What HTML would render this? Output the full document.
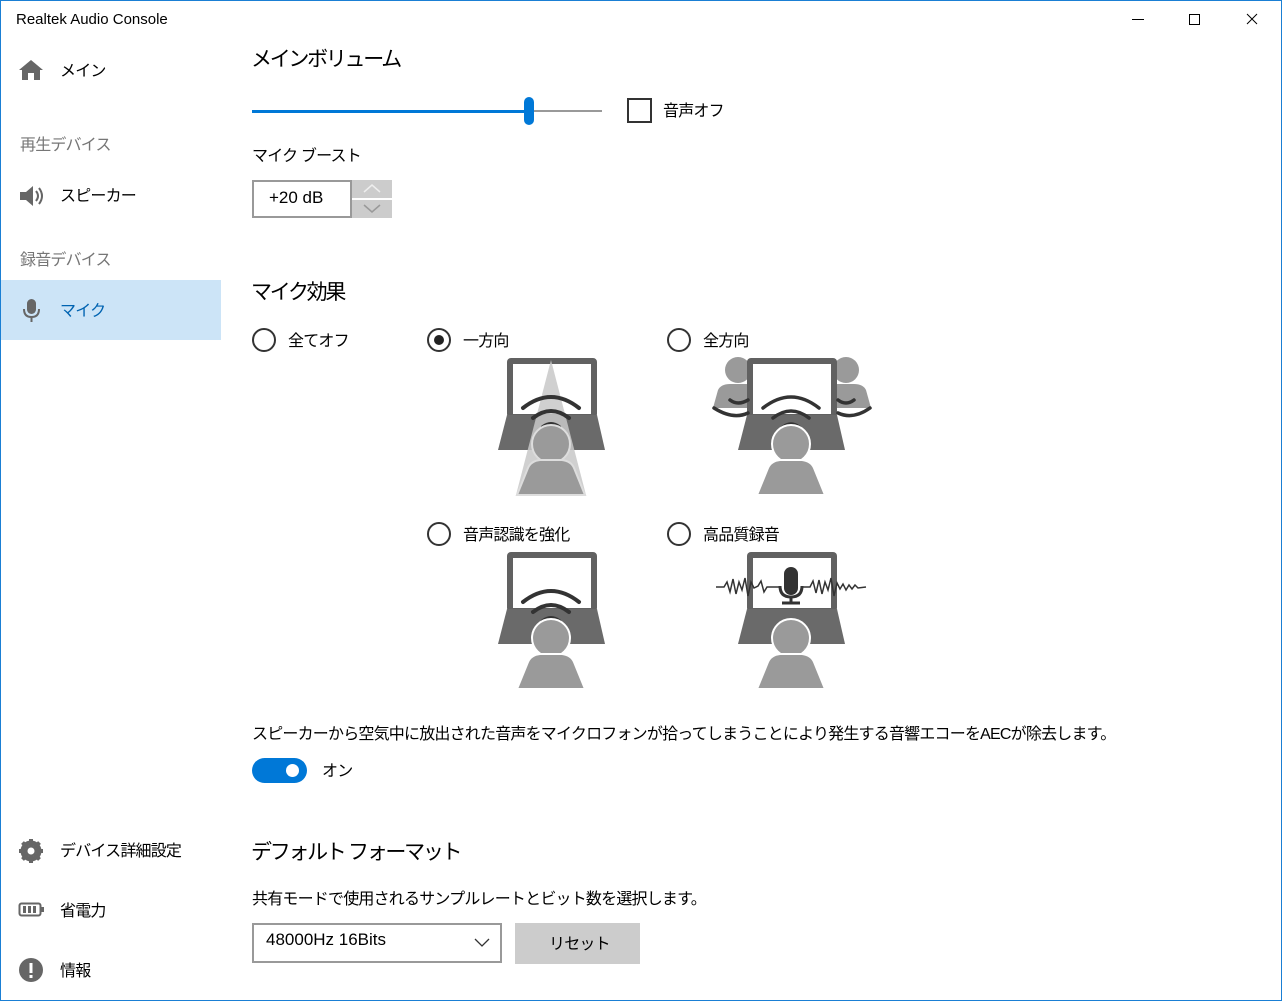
<!DOCTYPE html>
<html><head><meta charset="utf-8"><style>
*{margin:0;padding:0;box-sizing:border-box}
body{width:1282px;height:1001px;overflow:hidden;background:#fff;font-family:"Liberation Sans","Noto Sans CJK JP",sans-serif;color:#000;position:relative}
.frame{position:absolute;left:0;top:0;width:1282px;height:1001px;border:1px solid #1a7fd4;pointer-events:none}
.t{position:absolute;white-space:nowrap;margin-top:-2px}
.s18{font-size:16px;letter-spacing:-0.8px}
.h{font-size:21px;letter-spacing:-2.3px}
.g{color:#767676}
.radio{position:absolute;width:24px;height:24px;border:2px solid #333;border-radius:50%}
.radio.on::after{content:"";position:absolute;left:5px;top:5px;width:10px;height:10px;border-radius:50%;background:#222}
</style></head><body>
<div class="t" style="left:16px;top:11px;font-size:15px;margin-top:0">Realtek Audio Console</div>
<svg style="position:absolute;left:1100px;top:0" width="182" height="40">
<line x1="32" y1="19.5" x2="44" y2="19.5" stroke="#000"/>
<rect x="89.5" y="14.5" width="10" height="10" fill="none" stroke="#000"/>
<path d="M147,14 L157,24 M157,14 L147,24" stroke="#000"/>
</svg>

<div style="position:absolute;left:1px;top:280px;width:220px;height:60px;background:#cce4f7"></div>
<svg style="position:absolute;left:18px;top:58px" width="28" height="24"><path d="M1,12 L13,2 L25,12 L22,12 L22,22 L16,22 L16,15 L10,15 L10,22 L4,22 L4,12Z" fill="#666"/></svg>
<div class="t s18" style="left:60px;top:59px">メイン</div>
<div class="t s18 g" style="left:20px;top:133px">再生デバイス</div>
<svg style="position:absolute;left:18px;top:184px" width="28" height="24"><path d="M2,8 L8,8 L15,2 L15,22 L8,16 L2,16Z" fill="#666"/><path d="M18,7 Q22,12 18,17 M21,4 Q27,12 21,20" stroke="#666" stroke-width="2" fill="none"/></svg>
<div class="t s18" style="left:60px;top:184px">スピーカー</div>
<div class="t s18 g" style="left:20px;top:248px">録音デバイス</div>
<svg style="position:absolute;left:20px;top:297px" width="24" height="28"><rect x="7" y="2" width="9" height="15" rx="4.5" fill="#666"/><path d="M4,12 Q4,20 11.5,20 Q19,20 19,12" stroke="#666" stroke-width="2" fill="none"/><line x1="11.5" y1="20" x2="11.5" y2="25" stroke="#666" stroke-width="2"/></svg>
<div class="t s18" style="left:60px;top:299px;color:#0063b1">マイク</div>
<svg style="position:absolute;left:18px;top:838px" width="28" height="26"><circle cx="13" cy="13" r="8" fill="none" stroke="#666" stroke-width="5"/><g stroke="#666" stroke-width="4"><line x1="13" y1="1" x2="13" y2="25"/><line x1="1" y1="13" x2="25" y2="13"/><line x1="4.5" y1="4.5" x2="21.5" y2="21.5"/><line x1="21.5" y1="4.5" x2="4.5" y2="21.5"/></g><circle cx="13" cy="13" r="3.5" fill="#fff"/></svg>
<div class="t s18" style="left:60px;top:839px">デバイス詳細設定</div>
<svg style="position:absolute;left:18px;top:900px" width="28" height="20"><rect x="1.5" y="3.5" width="21" height="12" rx="2" fill="none" stroke="#666" stroke-width="2"/><rect x="23" y="7" width="3" height="5" fill="#666"/><rect x="5" y="6" width="3" height="7" fill="#666"/><rect x="10" y="6" width="3" height="7" fill="#666"/><rect x="15" y="6" width="3" height="7" fill="#666"/></svg>
<div class="t s18" style="left:60px;top:899px">省電力</div>
<svg style="position:absolute;left:18px;top:957px" width="28" height="28"><circle cx="13" cy="13" r="12" fill="#666"/><rect x="11.5" y="6" width="3" height="10" fill="#fff"/><rect x="11.5" y="18" width="3" height="3" fill="#fff"/></svg>
<div class="t s18" style="left:60px;top:959px">情報</div>

<div class="t h" style="left:251px;top:45px">メインボリューム</div>
<div style="position:absolute;left:252px;top:110px;width:276px;height:3px;background:#0078d7"></div>
<div style="position:absolute;left:528px;top:110px;width:74px;height:2px;background:#999"></div>
<div style="position:absolute;left:524px;top:97px;width:10px;height:28px;border-radius:5px;background:#0078d7"></div>
<div style="position:absolute;left:627px;top:98px;width:25px;height:25px;border:2px solid #333"></div>
<div class="t s18" style="left:663px;top:99px">音声オフ</div>

<div class="t s18" style="left:252px;top:144px">マイク ブースト</div>
<div style="position:absolute;left:252px;top:180px;width:100px;height:38px;border:2px solid #999;background:#fff"></div>
<div class="t" style="left:269px;top:190px;font-size:17px">+20 dB</div>
<div style="position:absolute;left:352px;top:180px;width:40px;height:18px;background:#ccc"></div>
<div style="position:absolute;left:352px;top:200px;width:40px;height:18px;background:#ccc"></div>
<svg style="position:absolute;left:352px;top:180px" width="40" height="38"><path d="M12,12 L20,5 L28,12" stroke="#eee" stroke-width="1.5" fill="none"/><path d="M12,25 L20,32 L28,25" stroke="#999" stroke-width="1.5" fill="none"/></svg>

<div class="t h" style="left:251px;top:278px">マイク効果</div>
<div class="radio" style="left:252px;top:328px"></div>
<div class="t s18" style="left:288px;top:329px">全てオフ</div>
<div class="radio on" style="left:427px;top:328px"></div>
<div class="t s18" style="left:463px;top:329px">一方向</div>
<div class="radio" style="left:667px;top:328px"></div>
<div class="t s18" style="left:703px;top:329px">全方向</div>
<div class="radio" style="left:427px;top:522px"></div>
<div class="t s18" style="left:463px;top:523px">音声認識を強化</div>
<div class="radio" style="left:667px;top:522px"></div>
<div class="t s18" style="left:703px;top:523px">高品質録音</div>

<svg style="position:absolute;left:0;top:0" width="1282" height="1001">
<g transform="translate(498,358)">
<rect x="9" y="0" width="90" height="60" rx="4" fill="#616161"/><rect x="15" y="6" width="78" height="50" fill="#fff"/>
<polygon points="9,57 99,57 107,92 0,92" fill="#6a6a6a"/>
<polygon points="53,2 18,137 88,137" fill="#c8c8c8" opacity="0.85"/>
<g stroke="#333" stroke-width="4" fill="none" stroke-linecap="round"><path d="M25,50 Q53,28 81,50"/><path d="M35,60 Q53,46 71,60"/><path d="M45,69 Q53,63 61,69"/></g>
<circle cx="53" cy="86" r="19" fill="#9a9a9a" stroke="#ddd" stroke-width="2"/>
<path d="M19,137 L30,110 Q33,103 42,102 L64,102 Q73,103 76,110 L87,137Z" fill="#9a9a9a" stroke="#ddd" stroke-width="2"/>
</g>
<g transform="translate(738,358)">
<circle cx="0" cy="12" r="13" fill="#9a9a9a"/><path d="M-25,50 L-20,32 Q-17,26 -8,26 L8,26 Q17,26 20,32 L25,50Z" fill="#9a9a9a"/>
<circle cx="108" cy="12" r="13" fill="#9a9a9a"/><path d="M83,50 L88,32 Q91,26 100,26 L116,26 Q125,26 128,32 L133,50Z" fill="#9a9a9a"/>
<rect x="9" y="0" width="90" height="60" rx="4" fill="#616161"/><rect x="15" y="6" width="78" height="50" fill="#fff"/>
<polygon points="9,57 99,57 107,92 0,92" fill="#6a6a6a"/>
<g stroke="#333" stroke-width="3.5" fill="none" stroke-linecap="round">
<path d="M25,50 Q53,28 81,50"/><path d="M35,60 Q53,46 71,60"/><path d="M45,69 Q53,63 61,69"/>
<path d="M-8,42 Q0,48 10,42"/><path d="M-24,50 Q-5,62 10,55"/>
<path d="M100,42 Q108,48 116,42"/><path d="M100,55 Q115,62 132,50"/></g>
<circle cx="53" cy="86" r="19" fill="#9a9a9a" stroke="#fff" stroke-width="2"/>
<path d="M19,137 L30,110 Q33,103 42,102 L64,102 Q73,103 76,110 L87,137Z" fill="#9a9a9a" stroke="#fff" stroke-width="2"/>
</g>
<g transform="translate(498,552)">
<rect x="9" y="0" width="90" height="60" rx="4" fill="#616161"/><rect x="15" y="6" width="78" height="50" fill="#fff"/>
<polygon points="9,57 99,57 107,92 0,92" fill="#6a6a6a"/>
<g stroke="#333" stroke-width="4" fill="none" stroke-linecap="round"><path d="M25,50 Q53,28 81,50"/><path d="M35,60 Q53,46 71,60"/><path d="M45,69 Q53,63 61,69"/></g>
<circle cx="53" cy="86" r="19" fill="#9a9a9a" stroke="#fff" stroke-width="2"/>
<path d="M19,137 L30,110 Q33,103 42,102 L64,102 Q73,103 76,110 L87,137Z" fill="#9a9a9a" stroke="#fff" stroke-width="2"/>
</g>
<g transform="translate(738,552)">
<rect x="9" y="0" width="90" height="60" rx="4" fill="#616161"/><rect x="15" y="6" width="78" height="50" fill="#fff"/>
<polygon points="9,57 99,57 107,92 0,92" fill="#6a6a6a"/>
<path d="M-22,35 L-14,35 L-11,30 L-8,40 L-5,27 L-2,42 L1,30 L4,38 L7,26 L10,44 L13,30 L16,36 L20,34 L23,29 L26,40 L29,35 L41,35" stroke="#333" stroke-width="1.5" fill="none"/>
<path d="M65,35 L72,35 L75,29 L78,41 L81,28 L84,42 L87,30 L90,38 L93,26 L96,44 L99,31 L102,37 L105,32 L108,38 L111,33 L114,37 L117,33 L120,36 L128,35" stroke="#333" stroke-width="1.5" fill="none"/>
<rect x="46" y="15" width="14" height="28" rx="7" fill="#333"/>
<path d="M42,34 Q42,45 53,45 Q64,45 64,34" stroke="#333" stroke-width="3" fill="none"/>
<line x1="53" y1="45" x2="53" y2="51" stroke="#333" stroke-width="3"/><line x1="44" y1="51" x2="62" y2="51" stroke="#333" stroke-width="3"/>
<circle cx="53" cy="86" r="19" fill="#9a9a9a" stroke="#fff" stroke-width="2"/>
<path d="M19,137 L30,110 Q33,103 42,102 L64,102 Q73,103 76,110 L87,137Z" fill="#9a9a9a" stroke="#fff" stroke-width="2"/>
</g>
</svg>

<div class="t s18" style="left:252px;top:722px">スピーカーから空気中に放出された音声をマイクロフォンが拾ってしまうことにより発生する音響エコーをAECが除去します。</div>
<div style="position:absolute;left:252px;top:758px;width:55px;height:25px;border-radius:13px;background:#0078d7"></div>
<div style="position:absolute;left:286px;top:764px;width:13px;height:13px;border-radius:50%;background:#fff"></div>
<div class="t s18" style="left:322px;top:759px">オン</div>

<div class="t h" style="left:251px;top:838px">デフォルト フォーマット</div>
<div class="t s18" style="left:252px;top:887px">共有モードで使用されるサンプルレートとビット数を選択します。</div>
<div style="position:absolute;left:252px;top:923px;width:250px;height:40px;border:2px solid #999"></div>
<div class="t" style="left:266px;top:932px;font-size:17px">48000Hz 16Bits</div>
<svg style="position:absolute;left:473px;top:936px" width="18" height="12"><path d="M2,3 L9,10 L16,3" stroke="#333" stroke-width="1.3" fill="none"/></svg>
<div style="position:absolute;left:515px;top:923px;width:125px;height:41px;background:#ccc"></div>
<div class="t s18" style="left:549px;top:932px">リセット</div>
<div class="frame"></div>
</body></html>
